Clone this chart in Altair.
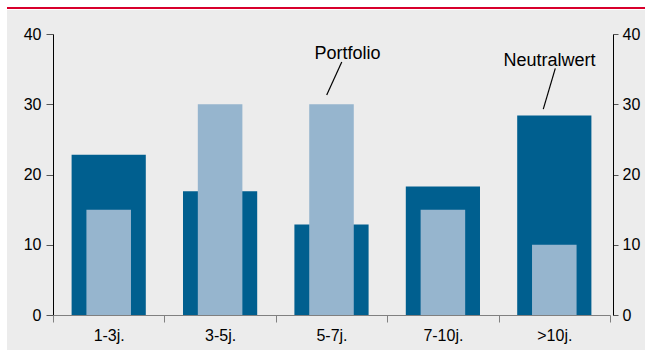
import altair as alt
import pandas as pd

# ---- data ----
categories = ["1-3j.", "3-5j.", "5-7j.", "7-10j.", ">10j."]
neutral = [22.8, 17.6, 12.9, 18.3, 28.4]      # dark bars (Neutralwert)
portfolio = [15, 30, 30, 15, 10]              # light bars (Portfolio)
y_ticks = [0, 10, 20, 30, 40]

ann_labels = ["Portfolio", "Neutralwert"]
ann_text_x = [2.644, 4.457]   # in category units (0..5)
ann_text_y = [36.5, 35.5]
ann_line_x1 = [2.592, 4.509]
ann_line_y1 = [36.0, 35.1]
ann_line_x2 = [2.457, 4.401]
ann_line_y2 = [31.3, 29.3]

FONT = "Liberation Sans"
DARK = "#005f8f"
LIGHT = "#96b5ce"

df = pd.DataFrame({"cat": categories, "neutral": neutral, "portfolio": portfolio})
ann = pd.DataFrame({"label": ann_labels, "tx": ann_text_x, "ty": ann_text_y,
                    "x1": ann_line_x1, "y1": ann_line_y1,
                    "x2": ann_line_x2, "y2": ann_line_y2})

yscale = alt.Scale(domain=[0, 40], nice=False, zero=True)
annx = alt.Scale(domain=[0, 5], nice=False, zero=False)


def xscale():
    return alt.Scale(domain=categories, paddingInner=0, paddingOuter=0)


deco = alt.Data(values=[{"k": 1}])
bg = alt.Chart(deco).mark_rect(color="#ececec", clip=False).encode(
    x=alt.value(-46), x2=alt.value(592), y=alt.value(-24), y2=alt.value(316)
)
redline = alt.Chart(deco).mark_rect(color="#d8002c", clip=False).encode(
    x=alt.value(-46), x2=alt.value(592), y=alt.value(-27), y2=alt.value(-25)
)

dark = alt.Chart(df).mark_bar(color=DARK, width=alt.RelativeBandSize(0.666)).encode(
    x=alt.X("cat:N", sort=None, scale=xscale(),
            axis=alt.Axis(title=None, labelAngle=0, tickBand="extent",
                          domainColor="#808080", tickColor="#808080",
                          tickSize=7, labelPadding=5, zindex=2)),
    y=alt.Y("neutral:Q", scale=yscale,
            axis=alt.Axis(orient="left", values=y_ticks, title=None,
                          domainColor="#000000", tickColor="#555555",
                          tickSize=7, labelPadding=5, zindex=1)),
)

light = alt.Chart(df).mark_bar(color=LIGHT, width=alt.RelativeBandSize(0.40)).encode(
    x=alt.X("cat:N", sort=None, scale=xscale(), axis=None),
    y=alt.Y("portfolio:Q", scale=yscale,
            axis=alt.Axis(orient="right", values=y_ticks, title=None, offset=3,
                          domainColor="#000000", tickColor="#555555",
                          tickSize=5, labelPadding=4, zindex=1)),
)

texts = alt.Chart(ann).mark_text(font=FONT, fontSize=18, align="center",
                                 baseline="alphabetic", color="#000000").encode(
    x=alt.X("tx:Q", scale=annx, axis=None),
    y=alt.Y("ty:Q", scale=yscale, axis=None),
    text="label:N",
)

rules = alt.Chart(ann).mark_rule(color="#000000", strokeWidth=1.2).encode(
    x=alt.X("x1:Q", scale=annx, axis=None),
    x2="x2:Q",
    y=alt.Y("y1:Q", scale=yscale, axis=None),
    y2="y2:Q",
)

chart = (
    alt.layer(bg, redline, dark, light, texts, rules)
    .resolve_scale(x="independent")
    .resolve_axis(x="independent", y="independent")
    .properties(
        width=557, height=281,
        autosize=alt.AutoSizeParams(type="none"),
        padding={"left": 53, "top": 34, "right": 35, "bottom": 38},
        background="#ffffff",
    )
    .configure_view(stroke=None)
    .configure_axis(labelFont=FONT, labelFontSize=16, labelColor="#000000",
                    grid=False, domainWidth=1, zindex=1)
)

chart.save("out.html", embed_options={"renderer": "svg", "actions": False})
